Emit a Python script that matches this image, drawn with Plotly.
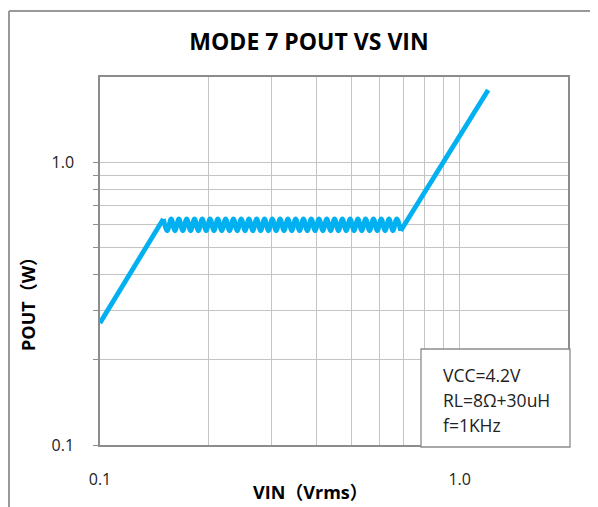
import plotly.graph_objects as go

# Data (three pieces of one curve)
vin_low = [0.100, 0.150]
pout_low = [0.270, 0.630]

vin_flat = [0.150, 0.1538, 0.1577, 0.1616, 0.1657, 0.1699, 0.1742, 0.1786, 0.1831, 0.1877,
            0.1924, 0.1973, 0.2023, 0.2074, 0.2126, 0.2180, 0.2235, 0.2291, 0.2349, 0.2408,
            0.2469, 0.2531, 0.2595, 0.2660, 0.2727, 0.2796, 0.2867, 0.2939, 0.3013, 0.3089,
            0.3167, 0.3247, 0.3329, 0.3413, 0.3499, 0.3587, 0.3677, 0.3770, 0.3865, 0.3962,
            0.4062, 0.4165, 0.4270, 0.4377, 0.4488, 0.4601, 0.4717, 0.4836, 0.4958, 0.5083,
            0.5211, 0.5342, 0.5477, 0.5615, 0.5757, 0.5902, 0.6051, 0.6203, 0.6360, 0.6520,
            0.6684, 0.6853]
pout_flat = [0.630, 0.572, 0.630, 0.572, 0.630, 0.572, 0.630, 0.572, 0.630, 0.572,
             0.630, 0.572, 0.630, 0.572, 0.630, 0.572, 0.630, 0.572, 0.630, 0.572,
             0.630, 0.572, 0.630, 0.572, 0.630, 0.572, 0.630, 0.572, 0.630, 0.572,
             0.630, 0.572, 0.630, 0.572, 0.630, 0.572, 0.630, 0.572, 0.630, 0.572,
             0.630, 0.572, 0.630, 0.572, 0.630, 0.572, 0.630, 0.572, 0.630, 0.572,
             0.630, 0.572, 0.630, 0.572, 0.630, 0.572, 0.630, 0.572, 0.630, 0.572,
             0.630, 0.572]

vin_high = [0.6853, 1.20]
pout_high = [0.572, 1.80]

x_tickvals = [0.1, 0.2, 0.3, 0.4, 0.5, 0.6, 0.7, 0.8, 0.9, 1.0]
x_ticktext = ["0.1", "", "", "", "", "", "", "", "", "1.0"]
y_tickvals = [0.1, 0.2, 0.3, 0.4, 0.5, 0.6, 0.7, 0.8, 0.9, 1.0]
y_ticktext = ["0.1", "", "", "", "", "", "", "", "", "1.0"]

notes = ["VCC=4.2V", "RL=8Ω+30uH", "f=1KHz"]

FONT = "'Open Sans', 'Noto Sans CJK SC', sans-serif"
GRID = "#c4c4c4"
AXIS = "#8c8c8c"
BLUE = "#00b0f0"

# page body has an 8px default margin; reference pixel (px, py) -> div (px-8, py-8)
OFF = 8
PL, PR, PT, PB = 100, 568, 77, 445  # plot area in reference pixels
PW, PH = PR - PL, PB - PT


def px(x):
    return (x - PL) / PW


def py(y):
    return (PB - y) / PH


fig = go.Figure()
fig.add_trace(go.Scatter(x=vin_low, y=pout_low, mode="lines",
                         line=dict(color=BLUE, width=4.8), showlegend=False, hoverinfo="skip"))
fig.add_trace(go.Scatter(x=vin_flat, y=pout_flat, mode="lines",
                         line=dict(color=BLUE, width=4.8, shape="spline", smoothing=1.0),
                         showlegend=False, hoverinfo="skip"))
fig.add_trace(go.Scatter(x=vin_high, y=pout_high, mode="lines",
                         line=dict(color=BLUE, width=4.8), showlegend=False, hoverinfo="skip"))

fig.update_layout(
    width=598, height=507,
    margin=dict(l=PL - OFF, r=598 - (PR - OFF), t=PT - OFF, b=507 - (PB - OFF)),
    paper_bgcolor="white", plot_bgcolor="white",
    font=dict(family=FONT, size=16, color="#222"),
    title=dict(text="<b>MODE 7 POUT VS VIN</b>", x=(309 - OFF) / 598, xanchor="center",
               y=1 - (42 - OFF) / 507, yanchor="middle",
               font=dict(family=FONT, size=23, color="#000")),
    xaxis=dict(type="log", range=[-1, 0.30103], tickvals=x_tickvals, ticktext=x_ticktext,
               showgrid=True, gridcolor=GRID, gridwidth=1.3,
               showline=True, linecolor=AXIS, linewidth=1.5, mirror=True,
               ticks="", ticklabelstandoff=19, zeroline=False,
               tickfont=dict(family=FONT, size=16, color="#222")),
    yaxis=dict(type="log", range=[-1, 0.30103], tickvals=y_tickvals, ticktext=y_ticktext,
               showgrid=True, gridcolor=GRID, gridwidth=1.3,
               showline=True, linecolor=AXIS, linewidth=1.5, mirror=True,
               ticks="outside", ticklen=5, tickcolor=AXIS, tickwidth=1.3,
               ticklabelstandoff=16, zeroline=False,
               tickfont=dict(family=FONT, size=16, color="#222")),
)

# outer chart border (only left and top edges are in view)
fig.add_shape(type="line", xref="paper", yref="paper",
              x0=px(9), x1=px(9), y0=py(515), y1=py(11),
              line=dict(color="#999999", width=2), layer="above")
fig.add_shape(type="line", xref="paper", yref="paper",
              x0=px(9), x1=px(620), y0=py(11), y1=py(11),
              line=dict(color="#999999", width=2), layer="above")

# axis titles
fig.add_annotation(text="<b>VIN（Vrms）</b>", xref="paper", yref="paper",
                   x=px(310), y=py(492), xanchor="center", yanchor="middle",
                   showarrow=False, font=dict(family=FONT, size=18, color="#000"))
fig.add_annotation(text="<b>POUT（W）</b>", xref="paper", yref="paper",
                   x=px(28), y=py(300), xanchor="center", yanchor="middle",
                   textangle=-90, showarrow=False, font=dict(family=FONT, size=18, color="#000"))

# note box
fig.add_shape(type="rect", xref="paper", yref="paper",
              x0=px(421), x1=px(570), y0=py(447), y1=py(349),
              line=dict(color="#8c8c8c", width=1.3), fillcolor="white", layer="above")
for i, t in enumerate(notes):
    fig.add_annotation(text=t, xref="paper", yref="paper",
                       x=px(441), y=py(375 + 25 * i),
                       xanchor="left", yanchor="middle", showarrow=False,
                       font=dict(family=FONT, size=17.5, color="#222"))

fig.write_html("out.html")
